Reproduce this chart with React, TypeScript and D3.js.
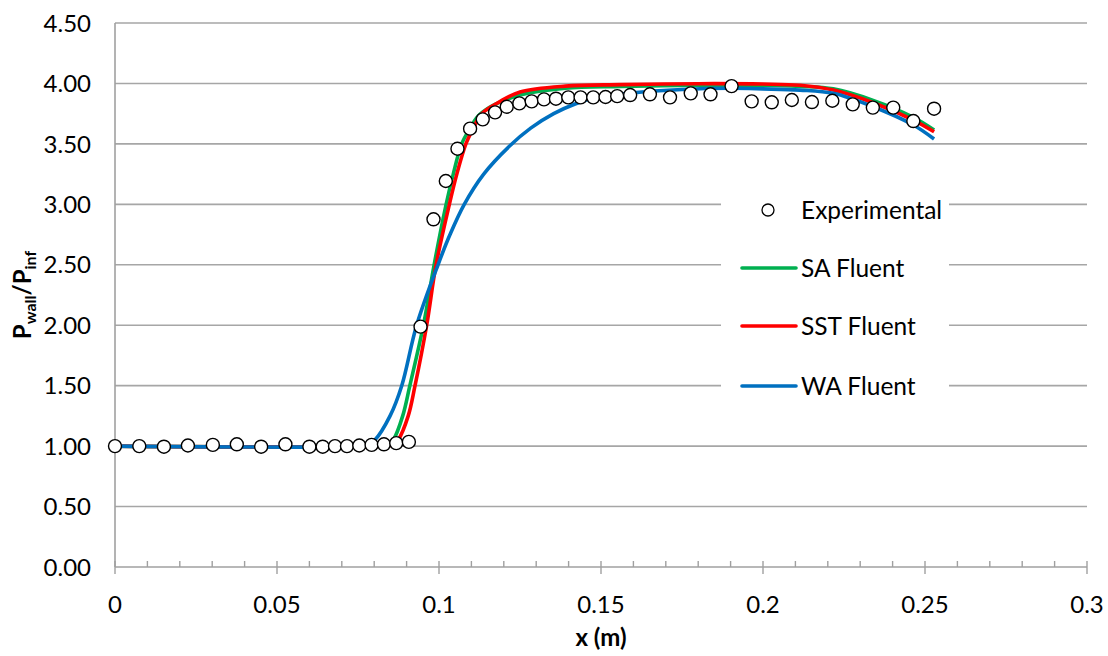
import React from 'react';
import * as d3 from 'd3';

// ---------- data ----------
const xTickValues = [0, 0.05, 0.1, 0.15, 0.2, 0.25, 0.3];
const xTickLabels = ['0', '0.05', '0.1', '0.15', '0.2', '0.25', '0.3'];
const yTickValues = [0, 0.5, 1, 1.5, 2, 2.5, 3, 3.5, 4, 4.5];
const yTickLabels = ['0.00', '0.50', '1.00', '1.50', '2.00', '2.50', '3.00', '3.50', '4.00', '4.50'];

const expX = [0, 0.0075, 0.0151, 0.0225, 0.0302, 0.0376, 0.0451, 0.0526, 0.06, 0.0641, 0.0679, 0.0716, 0.0754, 0.0792, 0.083, 0.0868, 0.0907,
  0.0943, 0.0983, 0.1021, 0.1057, 0.1096, 0.1135, 0.1173, 0.1209, 0.1248, 0.1286, 0.1324, 0.1361, 0.1399, 0.1437, 0.1476, 0.1514, 0.155, 0.159,
  0.1651, 0.1713, 0.1777, 0.1838, 0.1903, 0.1965, 0.2027, 0.2089, 0.2151, 0.2214, 0.2277, 0.2339, 0.2402, 0.2464, 0.2528];
const expY = [1.0, 1.0, 0.995, 1.005, 1.01, 1.015, 0.995, 1.015, 0.995, 0.995, 1.0, 1.0, 1.005, 1.01, 1.015, 1.025, 1.035,
  1.988, 2.876, 3.193, 3.46, 3.626, 3.703, 3.761, 3.807, 3.835, 3.852, 3.868, 3.874, 3.885, 3.885, 3.885, 3.888, 3.895, 3.904,
  3.91, 3.885, 3.918, 3.91, 3.978, 3.852, 3.844, 3.863, 3.846, 3.857, 3.827, 3.8, 3.8, 3.689, 3.791];

const saX = [0, 0.08, 0.0845, 0.0859, 0.0888, 0.091, 0.0952, 0.0985, 0.1022, 0.1044, 0.107, 0.1096, 0.1121, 0.1155, 0.1188, 0.125, 0.139, 0.156, 0.18, 0.2, 0.2114, 0.2217, 0.234, 0.2464, 0.2528];
const saY = [1.0, 1.0, 1.012, 1.05, 1.25, 1.5, 2.0, 2.5, 3.0, 3.25, 3.5, 3.63, 3.73, 3.8, 3.845, 3.905, 3.96, 3.975, 3.985, 3.985, 3.975, 3.955, 3.86, 3.72, 3.615];

const sstX = [0, 0.082, 0.086, 0.0874, 0.0905, 0.0926, 0.0962, 0.0991, 0.1032, 0.1055, 0.1083, 0.1106, 0.1132, 0.1188, 0.125, 0.139, 0.156, 0.18, 0.2, 0.2114, 0.2217, 0.234, 0.2464, 0.2528];
const sstY = [1.0, 1.0, 1.012, 1.05, 1.25, 1.5, 2.0, 2.5, 3.0, 3.25, 3.5, 3.63, 3.75, 3.85, 3.93, 3.978, 3.99, 3.998, 3.995, 3.985, 3.945, 3.84, 3.697, 3.6];

const waX = [0, 0.075, 0.0781, 0.0802, 0.0849, 0.0885, 0.0931, 0.0997, 0.1034, 0.1078, 0.1138, 0.1217, 0.1283, 0.1354, 0.142, 0.1488, 0.159, 0.175, 0.19, 0.2, 0.2114, 0.2217, 0.234, 0.2464, 0.2528];
const waY = [1.0, 1.0, 1.012, 1.05, 1.25, 1.5, 2.0, 2.5, 2.75, 3.0, 3.25, 3.48, 3.63, 3.75, 3.83, 3.885, 3.92, 3.95, 3.96, 3.955, 3.945, 3.918, 3.807, 3.656, 3.54];

const legendLabels = ['Experimental', 'SA Fluent', 'SST Fluent', 'WA Fluent'];

// ---------- layout ----------
const W = 1108;
const H = 656;
const plot = { left: 115, right: 1087, top: 23, bottom: 567 };
const FONT = 'Lato, "Open Sans", sans-serif';
const COLORS = { sa: '#00b050', sst: '#ff0000', wa: '#0070c0' };

export default function App() {
  const x = d3.scaleLinear().domain([0, 0.3]).range([plot.left, plot.right]);
  const y = d3.scaleLinear().domain([0, 4.5]).range([plot.bottom, plot.top]);

  const line = d3
    .line<[number, number]>()
    .x((d) => x(d[0]))
    .y((d) => y(d[1]))
    .curve(d3.curveCatmullRom.alpha(0.5));

  const series = [
    { xs: saX, ys: saY, color: COLORS.sa },
    { xs: sstX, ys: sstY, color: COLORS.sst },
    { xs: waX, ys: waY, color: COLORS.wa },
  ];

  const minorTicks = d3.range(0, 31).map((i) => i * 0.01).filter((v) => Math.round(v * 100) % 5 !== 0);

  const legendX = 742;
  const legendTextX = 801;
  const legendRows = [210, 268, 326, 386];

  return (
    <svg
      width={W}
      height={H}
      style={{ position: 'absolute', left: 0, top: 0, background: '#fff' }}
      fontFamily={FONT}
    >
      <rect x={0} y={0} width={W} height={H} fill="#fff" />
      {/* gridlines */}
      {yTickValues.map((v) =>
        v === 0 ? null : (
          <line key={'g' + v} x1={plot.left} x2={plot.right} y1={y(v)} y2={y(v)} stroke="#a6a6a6" strokeWidth={1.6} />
        )
      )}
      {/* axes */}
      <line x1={plot.left} x2={plot.left} y1={plot.top} y2={plot.bottom} stroke="#a0a0a0" strokeWidth={1.6} />
      <line x1={plot.left} x2={plot.right} y1={plot.bottom} y2={plot.bottom} stroke="#a0a0a0" strokeWidth={1.6} />
      {minorTicks.map((v) => (
        <line key={'mt' + v} x1={x(v)} x2={x(v)} y1={plot.bottom - 6} y2={plot.bottom} stroke="#a0a0a0" strokeWidth={1.4} />
      ))}
      {xTickValues.map((v) => (
        <line key={'t' + v} x1={x(v)} x2={x(v)} y1={plot.bottom - 6} y2={plot.bottom + 7} stroke="#a0a0a0" strokeWidth={1.4} />
      ))}
      {/* tick labels */}
      {xTickValues.map((v, i) => (
        <text key={'xl' + v} x={x(v)} y={613} textAnchor="middle" fontSize={24} fill="#000">
          {xTickLabels[i]}
        </text>
      ))}
      {yTickValues.map((v, i) => (
        <text key={'yl' + v} x={91} y={y(v)} dy="0.36em" textAnchor="end" fontSize={24} fill="#000">
          {yTickLabels[i]}
        </text>
      ))}
      {/* axis titles */}
      <text x={(plot.left + plot.right) / 2} y={646} textAnchor="middle" fontSize={24} fontWeight="bold" fill="#000">
        x (m)
      </text>
      <text transform={`translate(31, ${(plot.top + plot.bottom) / 2}) rotate(-90)`} textAnchor="middle" fontSize={24} fontWeight="bold" fill="#000">
        P
        <tspan fontSize={16} dy={5}>wall</tspan>
        <tspan dy={-5}>/P</tspan>
        <tspan fontSize={16} dy={5}>inf</tspan>
      </text>
      {/* model lines */}
      {series.map((s, i) => (
        <path
          key={'s' + i}
          d={line(s.xs.map((v, j) => [v, s.ys[j]] as [number, number])) || ''}
          fill="none"
          stroke={s.color}
          strokeWidth={3.6}
          strokeLinejoin="round"
        />
      ))}
      {/* experimental markers */}
      {expX.map((v, i) => (
        <circle key={'e' + i} cx={x(v)} cy={y(expY[i])} r={6.5} fill="#fff" stroke="#000" strokeWidth={1.4} />
      ))}
      {/* legend */}
      <rect x={721} y={184} width={228} height={226} fill="#fff" />
      <circle cx={768} cy={legendRows[0]} r={6} fill="#fff" stroke="#000" strokeWidth={1.3} />
      {[COLORS.sa, COLORS.sst, COLORS.wa].map((c, i) => (
        <line key={'ll' + i} x1={legendX} x2={796} y1={legendRows[i + 1]} y2={legendRows[i + 1]} stroke={c} strokeWidth={3.6} strokeLinecap="round" />
      ))}
      {legendLabels.map((t, i) => (
        <text key={'lt' + i} x={legendTextX} y={legendRows[i]} dy="0.36em" fontSize={24.5} fill="#000">
          {t}
        </text>
      ))}
    </svg>
  );
}
